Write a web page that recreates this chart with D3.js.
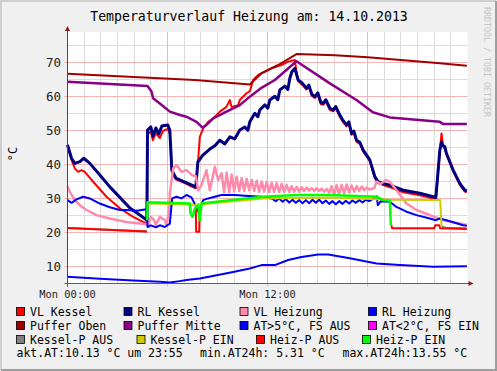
<!DOCTYPE html>
<html>
<head>
<meta charset="utf-8">
<script src="https://cdn.jsdelivr.net/npm/d3@7"></script>
<style>
    body { margin: 0; background: #f0f0f0; }
    #chart-area { width: 497px; height: 371px; }
    text { font-family: "DejaVu Sans Mono", monospace; }
</style>
</head>
<body>
<div id="chart-area"></div>
<script>

// [hour of day, °C]
let vlKessel = [[0,45.8],[0.24,41.3],[0.44,38.8],[0.64,37.8],[0.84,38.3],[1.04,37.8],[1.54,34.9],[2.34,30.5],[3.14,27.1],[3.94,24.6],[4.74,22.6],
    [4.79,48.6],[5.0,49.8],[5.12,47.1],[5.3,49.2],[5.54,47.7],[5.72,49.8],[6.02,50.4],[6.14,49.2],[6.26,37.7],[6.5,35.6],[7.04,34.5],[7.46,33.5],[7.7,33.0],
    [7.82,40.0],[7.94,48.1],[8.14,50.6],[8.44,52.5],[8.74,53.5],[9.14,55.5],[9.54,56.9],[9.74,58.9],[9.84,56.9],[10.24,57.4],[10.34,58.9],[10.74,60.9],[10.94,61.5],
    [11.14,64.8],[11.44,66.3],[11.84,67.2],[12.24,68.2],[12.84,69.2],[13.24,70.2],[13.64,70.7],[13.74,67.2],[13.84,64.5],[14.06,63.5],[14.34,62.0],[14.48,62.8],
    [14.66,60.1],[14.84,59.5],[15.02,60.5],[15.2,57.7],[15.34,57.5],[15.5,58.5],[15.74,56.0],[15.94,55.6],[16.1,56.5],[16.34,54.0],[16.52,52.5],[16.74,51.2],
    [16.88,52.0],[17.04,48.7],[17.18,49.3],[17.34,46.7],[17.54,46.0],[17.74,43.8],[18.14,41.0],[18.44,36.0],[18.64,34.5],[18.94,33.9],[19.34,33.3],[20.14,31.8],
    [21.14,30.9],[21.94,30.0],[22.1,29.8],[22.24,38.0],[22.44,49.1],[22.52,46.0],[22.74,43.0],[23.14,38.0],[23.54,34.0],[23.84,32.0],[23.96,31.8]];

let rlKessel = [[0,45.7],[0.24,41.8],[0.44,40.3],[0.74,40.8],[0.98,41.8],[1.34,40.3],[1.94,36.9],[2.54,33.4],[3.14,30.3],[3.74,27.2],[4.34,25.1],[4.77,23.6],
    [4.8,50.1],[5.0,51.0],[5.12,48.3],[5.3,50.7],[5.48,48.9],[5.66,51.3],[6.02,51.6],[6.14,50.0],[6.26,38.3],[6.5,36.0],[7.04,34.8],[7.46,33.9],[7.7,33.3],
    [7.82,40.7],[8.12,42.7],[8.54,44.5],[8.84,45.5],[9.14,47.1],[9.44,46.0],[9.74,48.1],[10.04,47.5],[10.34,50.1],[10.64,51.0],[10.82,50.0],[10.94,52.5],
    [11.24,55.0],[11.42,54.0],[11.54,56.0],[11.84,57.5],[12.02,56.5],[12.14,58.9],[12.44,60.0],[12.62,59.0],[12.74,61.9],[13.04,63.0],[13.22,62.0],[13.34,65.3],
    [13.46,67.2],[13.64,68.2],[13.84,64.8],[14.06,64.0],[14.34,62.4],[14.48,63.3],[14.66,60.6],[14.84,59.9],[15.02,61.0],[15.2,58.2],[15.34,57.9],[15.5,59.0],
    [15.74,56.5],[15.94,56.0],[16.1,57.0],[16.34,54.5],[16.52,53.0],[16.74,51.6],[16.88,52.5],[17.04,49.1],[17.18,49.8],[17.34,47.1],[17.54,46.5],[17.74,44.2],
    [18.14,41.3],[18.44,36.4],[18.64,34.9],[18.94,34.4],[19.34,33.9],[20.14,32.4],[21.14,31.5],[21.94,30.5],[22.1,30.2],[22.24,38.3],[22.34,44.2],[22.44,46.6],
    [22.52,45.5],[22.64,45.2],[22.74,43.2],[23.14,38.3],[23.54,34.4],[23.84,32.4],[23.96,32.2]];

let vlHeizung = [[0,33.6],[0.14,31.9],[0.44,29.5],[0.74,28.0],[1.14,26.6],[1.74,25.1],[2.54,24.1],[3.54,23.1],[4.74,22.4],
    [4.82,22.1],[5.0,24.6],[5.2,23.6],[5.3,22.1],[5.54,24.6],[5.84,23.6],[5.94,22.1],[6.1,26.6],[6.14,31.5],[6.34,38.8],[6.54,39.8],[6.84,37.8],[7.14,38.3],
    [7.44,36.9],[7.7,36.5],[7.84,32.4],[8.04,33.9],[8.34,38.3],[8.54,32.4],[8.84,39.3],[9.04,35.4],[9.24,37.4],
    [9.4,31.8],[9.55,37.6],[9.7,31.8],[9.85,37.0],[10.0,32.0],[10.15,36.4],[10.3,32.2],[10.45,36.0],[10.6,32.2],[10.75,35.8],[10.9,32.4],[11.05,35.4],
    [11.2,32.2],[11.35,35.2],[11.5,31.9],[11.65,35.0],[11.8,32.0],[11.95,34.9],[12.1,31.9],[12.25,34.6],[12.4,31.9],[12.55,34.5],[12.7,31.9],[12.85,34.3],
    [13.0,31.9],[13.15,34.0],[13.3,31.9],[13.45,33.6],[13.6,32.0],[13.75,33.4],[13.9,32.0],[14.05,33.3],[14.2,32.2],[14.35,33.2],[14.5,32.3],[14.65,33.0],
    [14.8,32.2],[14.95,33.0],[15.1,32.2],[15.25,32.9],[15.4,32.0],[15.55,32.8],[15.7,31.7],[15.85,33.6],[16.0,31.0],[16.15,33.9],[16.3,31.2],[16.45,34.0],
    [16.6,31.5],[16.75,34.1],[16.9,31.8],[17.05,33.8],[17.2,32.0],[17.35,33.6],[17.5,32.2],[17.65,33.5],[17.8,32.4],[17.95,33.2],[18.1,32.6],[18.4,33.0],
    [18.54,34.9],[18.8,34.3],[19.1,35.4],[19.34,34.9],[19.74,32.4],[20.34,28.5],[20.94,26.6],[21.74,25.1],[22.54,23.6],[23.74,22.4],[23.96,22.3]];

let rlHeizung = [[0,29.5],[0.24,28.7],[0.54,29.7],[0.94,30.5],[1.34,30.0],[1.94,28.5],[2.54,27.4],[3.14,26.6],[3.54,26.6],[4.14,26.4],[4.76,26.8],
    [4.8,21.6],[5.0,22.1],[5.3,21.5],[5.54,22.1],[5.84,21.6],[6.14,22.6],[6.28,30.0],[6.54,30.5],[6.84,30.0],[7.14,31.0],[7.44,30.3],[7.64,28.3],[7.84,26.1],
    [7.98,27.5],[8.14,29.5],[8.44,30.0],[8.84,30.5],[9.24,31.0],[10.04,31.0],[10.64,30.8],[11.64,30.5],[12.24,30.0],[12.5,29.2],[12.7,30.0],[12.9,29.0],
    [13.1,29.8],[13.3,28.8],[13.5,29.6],[13.7,28.7],[13.9,29.5],[14.1,28.6],[14.3,29.5],[14.5,28.6],[14.7,29.6],[14.9,28.7],[15.1,29.6],[15.3,28.6],[15.5,29.4],
    [15.7,28.4],[15.9,29.2],[16.1,28.3],[16.3,29.2],[16.5,28.4],[16.7,29.3],[16.9,28.5],[17.1,29.4],[17.3,28.7],[17.5,29.5],[17.7,28.8],[17.9,29.6],[18.1,29.2],
    [18.3,29.8],[18.55,30.6],[18.62,28.0],[18.8,29.2],[19.34,29.0],[19.74,27.5],[20.34,26.1],[20.94,25.1],[21.74,24.1],[22.1,23.6],[22.34,24.1],[22.74,23.6],
    [23.74,22.1],[23.96,22.0]];

let pufferOben = [[0,66.6],[7.65,64.8],[10.94,63.5],[11.64,66.8],[12.64,69.2],[13.64,72.1],[13.74,72.4],[16.04,72.1],[18.02,71.5],[22.34,69.7],[23.96,69.0]];

let pufferMitte = [[0,64.3],[4.8,63.0],[5.04,61.4],[5.14,59.4],[5.54,57.9],[6.14,55.5],[6.74,54.5],[7.14,54.0],[7.74,52.5],[8.1,50.8],[8.34,51.6],
    [8.74,53.5],[9.54,55.5],[10.34,57.4],[10.94,59.9],[11.64,62.5],[12.44,64.8],[13.74,70.3],[15.74,63.8],[17.34,58.9],[18.32,55.3],[19.34,53.8],
    [22.14,52.6],[22.34,52.5],[22.52,51.9],[23.96,51.9]];

let aussenTemp = [[0,7.0],[1.94,6.4],[3.94,5.9],[5.54,5.5],[6.14,5.3],[6.74,5.7],[7.14,6.0],[7.94,6.5],[8.64,7.1],[9.94,8.4],[10.94,9.4],[11.64,10.4],
    [12.44,10.4],[13.24,11.9],[14.04,12.8],[15.04,13.5],[15.64,13.5],[16.94,12.4],[18.54,10.9],[19.94,10.4],[21.94,9.9],[23.96,10.1]];

// pump states, drawn as separate pieces
let kesselPAus = [[[0,21.3],[4.77,20.3]], [[22.46,21.7],[22.7,21.4],[23.96,21.2]]];
let kesselPEin = [[[4.78,28.5],[7.34,28.3],[7.64,28.0],[7.84,28.3],[8.04,28.3],[11.74,30.0],[15.74,30.3],[19.34,29.6],[22.36,29.5],[22.43,23.1],[22.46,21.7]]];
let heizPAus = [[[0,21.3],[4.77,20.3]], [[7.7,27.0],[7.72,20.2],[7.9,20.2],[7.93,26.0]],
    [[19.43,22.1],[19.48,21.2],[22.0,21.2],[22.06,22.1],[22.3,22.1],[22.36,21.2],[23.96,21.0]]];
let heizPEin = [[[4.78,23.6],[4.8,28.9],[7.34,28.5],[7.38,25.6],[7.5,24.6],[7.64,27.0],[7.84,28.0],[7.94,23.6],[8.04,28.5],[9.74,29.5],[11.74,30.5],
    [13.74,31.0],[15.74,31.0],[18.54,30.5],[18.94,29.5],[19.34,29.3],[19.4,22.1]]];

let legendNames = ["VL Kessel", "RL Kessel", "VL Heizung", "RL Heizung",
    "Puffer Oben", "Puffer Mitte", "AT>5°C, FS AUS", "AT<2°C, FS EIN",
    "Kessel-P AUS", "Kessel-P EIN", "Heiz-P AUS", "Heiz-P EIN"];
let footerLabels = ["akt.AT:10.13 °C um 23:55", "min.AT24h: 5.31 °C", "max.AT24h:13.55 °C"];
let xTickLabels = [[0, "Mon 00:00"], [12, "Mon 12:00"]];
let yTickValues = [10, 20, 30, 40, 50, 60, 70];


class rrdChart {

    constructor(parentElement) {
        this.parentElement = parentElement;
        this.initVis();
    }

    initVis() {
        let vis = this;

        vis.width = 497;
        vis.height = 371;
        vis.plot = {left: 67.5, right: 467.5, top: 32, bottom: 283.5};

        vis.svg = d3.select("#" + vis.parentElement).append("svg")
            .attr("width", vis.width)
            .attr("height", vis.height);

        // background + 3d frame
        vis.svg.append("rect").attr("width", vis.width).attr("height", vis.height).attr("fill", "#f0f0f0");
        vis.svg.append("path").attr("d", "M1,370 V1 H496").attr("fill", "none").attr("stroke", "#cfcfcf").attr("stroke-width", 2);
        vis.svg.append("path").attr("d", "M1,370 H496 V1").attr("fill", "none").attr("stroke", "#9e9e9e").attr("stroke-width", 2);

        vis.x = d3.scaleLinear().domain([0, 24]).range([vis.plot.left, vis.plot.right]);
        vis.y = d3.scaleLinear().domain([5, 78.9]).range([vis.plot.bottom, vis.plot.top]);

        vis.svg.append("rect")
            .attr("x", vis.plot.left).attr("y", vis.plot.top)
            .attr("width", vis.plot.right - vis.plot.left)
            .attr("height", vis.plot.bottom - vis.plot.top)
            .attr("fill", "#ffffff");

        vis.styles = [
            {color: "#ff0000", width: 2},
            {color: "#000080", width: 3},
            {color: "#ff8aab", width: 2.5},
            {color: "#0000ff", width: 2},
            {color: "#a00000", width: 2},
            {color: "#880088", width: 2.5},
            {color: "#0000ff", width: 2},
            {color: "#ff00ff", width: 2},
            {color: "#808080", width: 2},
            {color: "#cccc00", width: 2},
            {color: "#ff0000", width: 2},
            {color: "#00ff00", width: 2.5}
        ];

        vis.drawGrid();
        vis.drawTexts();
        vis.wrangleData();
    }

    drawGrid() {
        let vis = this;
        let g = vis.svg.append("g").attr("class", "grid");
        let px = v => Math.round(v - 0.5) + 0.5;

        d3.range(1, 24).filter(h => h % 6 !== 0).forEach(h => {
            g.append("line").attr("x1", px(vis.x(h))).attr("x2", px(vis.x(h)))
                .attr("y1", vis.plot.top).attr("y2", vis.plot.bottom).attr("stroke", "#dcdcdc");
        });
        d3.range(15, 80, 10).forEach(v => {
            g.append("line").attr("y1", px(vis.y(v))).attr("y2", px(vis.y(v)))
                .attr("x1", vis.plot.left - 2).attr("x2", vis.plot.right).attr("stroke", "#dcdcdc");
        });
        [6, 12, 18].forEach(h => {
            g.append("line").attr("x1", px(vis.x(h))).attr("x2", px(vis.x(h)))
                .attr("y1", vis.plot.top).attr("y2", vis.plot.bottom + 3).attr("stroke", "#f4b4b4");
        });
        yTickValues.forEach(v => {
            g.append("line").attr("y1", px(vis.y(v))).attr("y2", px(vis.y(v)))
                .attr("x1", vis.plot.left - 3).attr("x2", vis.plot.right).attr("stroke", "#f4b4b4");
        });
    }

    drawTexts() {
        let vis = this;

        vis.svg.append("text")
            .attr("x", 249).attr("y", 21)
            .attr("text-anchor", "middle")
            .attr("font-size", 13.2)
            .text("Temperaturverlauf Heizung am: 14.10.2013");

        vis.svg.append("text")
            .attr("transform", "translate(16.5,154) rotate(-90)")
            .attr("text-anchor", "middle")
            .attr("font-size", 12)
            .text("°C");

        vis.svg.append("text")
            .attr("transform", "translate(483.5,7) rotate(90)")
            .attr("font-size", 8.3)
            .attr("fill", "#c4c4c4")
            .text("RRDTOOL / TOBI OETIKER");

        vis.svg.selectAll(".ytick").data(yTickValues).enter().append("text")
            .attr("class", "ytick")
            .attr("x", 61).attr("y", d => vis.y(d) + 4.5)
            .attr("text-anchor", "end")
            .attr("font-size", 12.5)
            .attr("fill", "#222")
            .text(d => d);

        vis.svg.selectAll(".xtick").data(xTickLabels).enter().append("text")
            .attr("class", "xtick")
            .attr("x", d => vis.x(d[0])).attr("y", 297.5)
            .attr("text-anchor", "middle")
            .attr("font-size", 10.4)
            .attr("fill", "#222")
            .text(d => d[1]);

        // legend, 4 per row
        let colX = [[16.5, 124, 240, 368.5], [16.5, 124, 240, 368.5], [16.5, 137, 256.5, 362.5]];
        let rowY = [315, 329, 343];
        legendNames.forEach((name, i) => {
            let r = Math.floor(i / 4), c = i % 4;
            vis.svg.append("rect")
                .attr("x", colX[r][c]).attr("y", rowY[r] - 7.5)
                .attr("width", 8).attr("height", 8)
                .attr("fill", vis.styles[i].color)
                .attr("stroke", "#000").attr("stroke-width", 0.8);
            vis.svg.append("text")
                .attr("x", colX[r][c] + 13.5).attr("y", rowY[r] + 0.5)
                .attr("font-size", 11.5)
                .text(name);
        });

        let footX = [16.5, 200, 342.5];
        footerLabels.forEach((t, i) => {
            vis.svg.append("text")
                .attr("x", footX[i]).attr("y", 357)
                .attr("font-size", 11.5)
                .text(t);
        });
    }

    wrangleData() {
        let vis = this;

        vis.displayData = [
            [vlKessel], [rlKessel], [vlHeizung], [rlHeizung],
            [pufferOben], [pufferMitte], [aussenTemp], [],
            kesselPAus, kesselPEin, heizPAus, heizPEin
        ];

        vis.updateVis();
    }

    updateVis() {
        let vis = this;

        let line = d3.line()
            .x(d => vis.x(d[0]))
            .y(d => vis.y(d[1]));

        let lines = vis.svg.append("g").attr("class", "lines");
        vis.displayData.forEach((pieces, i) => {
            pieces.forEach(p => {
                lines.append("path")
                    .datum(p)
                    .attr("d", line)
                    .attr("fill", "none")
                    .attr("stroke", vis.styles[i].color)
                    .attr("stroke-width", vis.styles[i].width)
                    .attr("stroke-linejoin", "round");
            });
        });

        // axes with arrows
        let ax = vis.svg.append("g").attr("class", "axis");
        ax.append("line").attr("x1", vis.plot.left - 3).attr("x2", vis.plot.right + 2)
            .attr("y1", vis.plot.bottom).attr("y2", vis.plot.bottom).attr("stroke", "#606060");
        ax.append("line").attr("x1", vis.plot.left).attr("x2", vis.plot.left)
            .attr("y1", vis.plot.bottom + 3).attr("y2", vis.plot.top - 2).attr("stroke", "#8a3030");
        ax.append("path")
            .attr("d", `M${vis.plot.right + 1},${vis.plot.bottom - 2.5} L${vis.plot.right + 6},${vis.plot.bottom} L${vis.plot.right + 1},${vis.plot.bottom + 2.5} Z`)
            .attr("fill", "#8a1a1a");
        ax.append("path")
            .attr("d", `M${vis.plot.left - 2.5},${vis.plot.top - 1} L${vis.plot.left},${vis.plot.top - 6} L${vis.plot.left + 2.5},${vis.plot.top - 1} Z`)
            .attr("fill", "#8a1a1a");
        ax.append("line").attr("x1", vis.plot.left).attr("x2", vis.plot.left)
            .attr("y1", vis.plot.bottom).attr("y2", vis.plot.bottom + 3).attr("stroke", "#606060");
    }
}

new rrdChart("chart-area");

</script>
</body>
</html>
